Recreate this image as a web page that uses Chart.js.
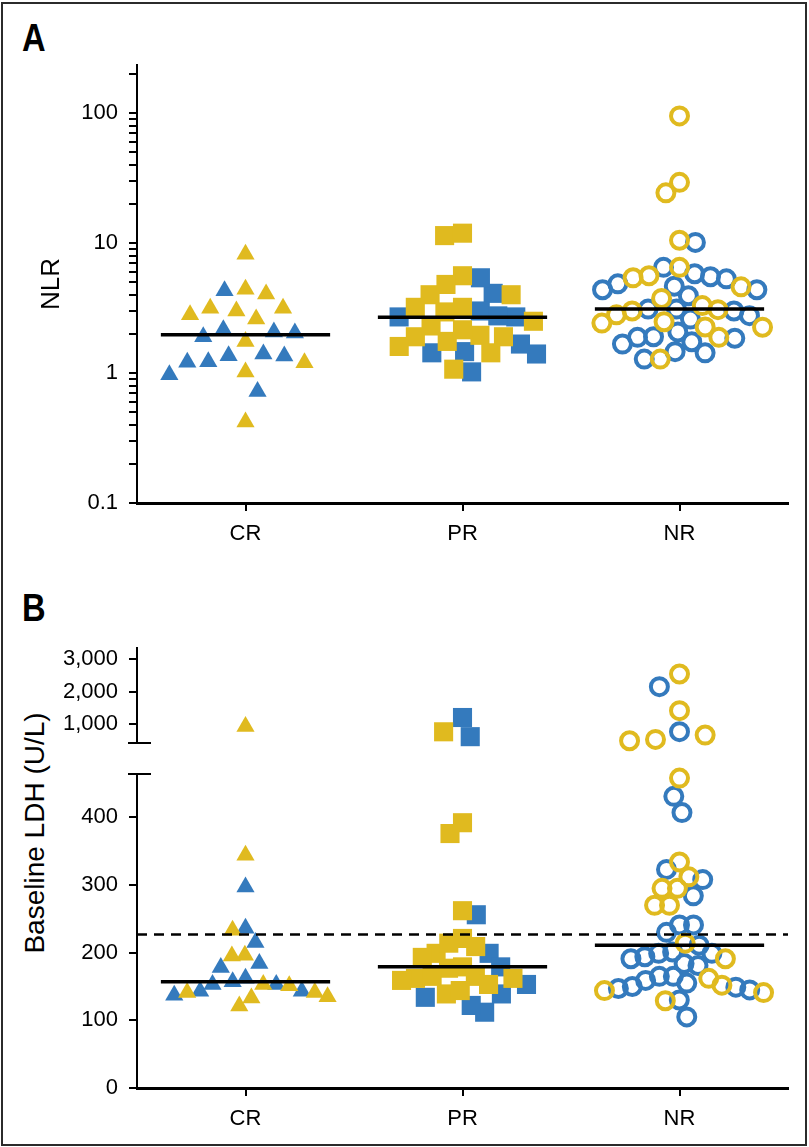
<!DOCTYPE html>
<html>
<head>
<meta charset="utf-8">
<script src="https://cdn.jsdelivr.net/npm/chart.js@4.4.1/dist/chart.umd.min.js"></script>
<style>
  html, body { margin: 0; padding: 0; background: #fff; }
  #page { position: relative; width: 809px; height: 1147px; overflow: hidden; }
  .frame { position: absolute; left: 1px; top: 2px; width: 802px; height: 1140px; border: 2px solid #2b2b2b; }
  .holder { position: absolute; left: 0; }
  .tag { position: absolute; left: 22px; font: bold 38px 'Liberation Sans', Arial, sans-serif; line-height: 1; color: #000;
         transform: scaleX(0.86); transform-origin: left top; }
  .ytitle { position: absolute; font: 28px 'Liberation Sans', Arial, sans-serif; line-height: 1; color: #000;
            white-space: nowrap; transform: translate(-50%, -50%) rotate(-90deg); }
</style>
</head>
<body>
<div id="page">
  <div class="frame"></div>
  <div class="tag" style="top:19px">A</div>
  <div class="tag" style="top:589px">B</div>
  <div class="ytitle" style="left:35px; top:833px">Baseline LDH (U/L)</div>
  <div class="holder" style="top:0"><canvas id="nlrChart" width="809" height="560"></canvas></div>
  <div class="holder" style="top:600px"><canvas id="ldhHighChart" width="809" height="170"></canvas></div>
  <div class="holder" style="top:740px"><canvas id="ldhLowChart" width="809" height="407"></canvas></div>
</div>
<script>
// Response groups
const groups = ['CR', 'PR', 'NR'];

// Panel A: NLR values (yellow and blue patients)
const nlrYellowCR = [8.2, 4.4, 4.05, 3.15, 3.0, 2.6, 2.8, 3.15, 1.75, 1.2, 1.02, 0.42];
const nlrBlueCR = [4.3, 2.07, 2.03, 2.15, 1.9, 1.36, 1.22, 0.97, 1.21, 1.35, 1.4, 0.72];
const nlrYellowPR = [11.4, 11.9, 5.6, 4.0, 4.8, 4.0, 3.2, 2.95, 3.2, 2.5, 1.95, 1.9, 1.75, 1.9, 2.15, 1.6, 1.43, 1.07, 2.3];
const nlrBluePR = [4.1, 5.4, 2.7, 3.0, 2.75, 2.7, 1.43, 1.4, 1.02, 1.46, 1.67];
const nlrYellowNR = [95, 29.3, 24.3, 10.5, 6.5, 5.4, 5.6, 4.6, 3.75, 3.3, 3.07, 3.0, 2.48, 2.25, 2.26, 2.42, 2.8, 1.88, 1.28];
const nlrBlueNR = [10.1, 6.5, 5.8, 5.5, 5.3, 4.85, 4.65, 4.37, 4.37, 3.93, 3.1, 3.1, 2.76, 3.0, 1.85, 1.67, 1.43, 1.28, 1.46, 1.74, 1.88, 2.07, 1.9, 2.6];
const nlrMedians = [1.97, 2.68, 3.1];
const nlrMajorTicks = [0.1, 1, 10, 100];
const nlrMax = 234;

// Panel B: baseline LDH values (U/L)
const ldhYellowCR = [920, 344, 233, 196, 195, 151, 141, 135, 121, 133, 141, 153];
const ldhBlueCR = [297, 236, 215, 184, 178, 153, 143, 157, 162, 137, 143, 153];
const ldhYellowPR = [760, 376, 392, 262, 221, 209, 199, 214, 193, 179, 177, 165, 162, 159, 153, 162, 165, 139, 144];
const ldhBluePR = [610, 1200, 256, 199, 179, 153, 139, 134, 112, 122];
const ldhYellowNR = [2540, 1410, 660, 485, 526, 458, 334, 312, 295, 295, 270, 270, 214, 191, 162, 144, 152, 129, 141];
const ldhBlueNR = [2150, 763, 431, 407, 323, 308, 284, 241, 241, 230, 211, 199, 191, 194, 199, 201, 184, 181, 165, 150, 130, 147, 145, 149, 155, 159, 165, 105];
const ldhMedians = [157, 179, 211];
const ldhUpperNormal = 227;
const ldhLowTicks = [0, 100, 200, 300, 400];
const ldhHighTicks = [1000, 2000, 3000];
const ldhLowMax = 464;
const ldhHighMin = 415;
const ldhHighMax = 3340;

const yellow = '#E0BA1F';
const blue = '#347ABD';

Chart.defaults.font.family = "'Liberation Sans', Arial, sans-serif";
Chart.defaults.color = '#000';
Chart.defaults.animation = false;

// marker look per response group
function markerStyle(cat, color) {
  if (cat === 0) return { pointStyle: 'triangle', pointRadius: 10.5, pointBackgroundColor: color, pointBorderColor: color, pointBorderWidth: 0 };
  if (cat === 1) return { pointStyle: 'rect', pointRadius: 13.5, pointBackgroundColor: color, pointBorderColor: color, pointBorderWidth: 0 };
  return { pointStyle: 'circle', pointRadius: 8.5, pointBackgroundColor: 'rgba(0,0,0,0)', pointBorderColor: color, pointBorderWidth: 4 };
}

function groupSets(yellowLists, blueLists, keep) {
  const sets = [];
  [[yellowLists, yellow, 1], [blueLists, blue, 2]].forEach(([lists, color, order]) => {
    lists.forEach((vals, cat) => {
      sets.push(Object.assign({
        label: groups[cat],
        cat: cat,
        data: vals.filter(keep).map(v => ({ x: cat, y: v })),
        order: order,
        clip: false
      }, markerStyle(cat, color)));
    });
  });
  return sets;
}

function medianSet(medians) {
  const pts = [];
  medians.forEach((m, i) => {
    pts.push({ x: i - 0.39, y: m }, { x: i + 0.39, y: m }, { x: i + 0.5, y: null });
  });
  return { type: 'line', data: pts, borderColor: '#000', borderWidth: 3.5, pointRadius: 0, showLine: true, spanGaps: false, order: 0 };
}

// spread the points sideways like a dot plot (beeswarm with an oval keep-out zone)
function swarm(chart, gaps) {
  const xs = chart.scales.x, ys = chart.scales.y;
  const unit = xs.getPixelForValue(1) - xs.getPixelForValue(0);
  groups.forEach((g, c) => {
    const pts = [];
    chart.data.datasets.forEach(ds => {
      if (ds.cat !== c) return;
      ds.data.forEach(p => pts.push({ p: p, y: ys.getPixelForValue(p.y) }));
    });
    pts.sort((a, b) => a.y - b.y);
    const sx = gaps[c][0], sy = gaps[c][1];
    const placed = [];
    let side = -1;
    pts.forEach(q => {
      const near = placed.filter(o => Math.abs(o.y - q.y) < sy);
      const cands = [0];
      near.forEach(o => {
        const t = (o.y - q.y) / sy;
        const w = sx * Math.sqrt(1 - t * t);
        cands.push(o.x + w, o.x - w);
      });
      let best = null;
      cands.forEach(x => {
        const hit = near.some(o => {
          const dx = (o.x - x) / sx, dy = (o.y - q.y) / sy;
          return dx * dx + dy * dy < 0.995;
        });
        if (hit) return;
        if (best === null || Math.abs(x) < Math.abs(best) - 0.5 ||
            (Math.abs(Math.abs(x) - Math.abs(best)) <= 0.5 && Math.sign(x) === side)) best = x;
      });
      if (Math.abs(best) > 0.5) side = -Math.sign(best);
      q.x = best;
      placed.push(q);
      q.p.x = c + best / unit;
    });
  });
  chart.update('none');
}

// short horizontal mark where the LDH axis is broken
const axisBreak = {
  id: 'axisBreak',
  afterDraw(chart, args, opts) {
    const ys = chart.scales.y;
    const yPix = opts.edge === 'bottom' ? ys.bottom : ys.top;
    const ctx = chart.ctx;
    ctx.save();
    ctx.strokeStyle = '#000';
    ctx.lineWidth = 2;
    ctx.beginPath();
    ctx.moveTo(ys.right - 9, yPix);
    ctx.lineTo(ys.right + 14, yPix);
    ctx.stroke();
    ctx.restore();
  }
};

const tickFont = { size: 22 };

function xAxis(height, show) {
  return {
    type: 'linear', min: -0.5, max: 2.5, display: show,
    afterBuildTicks: s => { s.ticks = groups.map((g, i) => ({ value: i })); },
    afterFit: s => { s.height = height; },
    ticks: { callback: v => groups[v], padding: 10, font: tickFont, color: '#000' },
    grid: { drawOnChartArea: false, tickLength: 8, color: '#000', lineWidth: 2 },
    border: { color: '#000', width: 3 }
  };
}

function yAxisBase(tickValues, labelFn) {
  return {
    afterBuildTicks: s => { s.ticks = tickValues.map(v => ({ value: v })); },
    afterFit: s => { s.width = 137; },
    ticks: { autoSkip: false, padding: 11, font: tickFont, color: '#000', callback: labelFn },
    grid: { drawOnChartArea: false, tickLength: 8, color: '#000', lineWidth: 2 },
    border: { color: '#000', width: 2 }
  };
}

// Panel A
const nlrTickValues = [];
nlrMajorTicks.forEach(m => {
  for (let k = 1; k <= 9; k++) if (m * k <= nlrMax) nlrTickValues.push(m * k);
});
const nlrY = yAxisBase(nlrTickValues, v => {
  const hit = nlrMajorTicks.find(m => Math.abs(m - v) / m < 1e-6);
  return hit === undefined ? '' : String(hit);
});
nlrY.type = 'logarithmic';
nlrY.min = 0.1;
nlrY.max = nlrMax;
nlrY.title = { display: true, text: 'NLR', font: { size: 26 }, color: '#000', padding: { top: 36, bottom: 0 } };

const nlrChart = new Chart(document.getElementById('nlrChart'), {
  type: 'scatter',
  data: {
    datasets: [medianSet(nlrMedians)].concat(groupSets(
      [nlrYellowCR, nlrYellowPR, nlrYellowNR], [nlrBlueCR, nlrBluePR, nlrBlueNR], () => true))
  },
  options: {
    responsive: false,
    layout: { padding: { top: 65, right: 21, bottom: 0, left: 0 }, autoPadding: false },
    plugins: { legend: { display: false }, tooltip: { enabled: false } },
    scales: { x: xAxis(57, true), y: nlrY }
  }
});
swarm(nlrChart, [[21, 24], [18, 22], [16, 20]]);

// Panel B, upper part of the broken axis
const highY = yAxisBase(ldhHighTicks, v => v.toLocaleString('en-US'));
highY.type = 'linear';
highY.min = ldhHighMin;
highY.max = ldhHighMax;

const ldhHighChart = new Chart(document.getElementById('ldhHighChart'), {
  type: 'scatter',
  data: {
    datasets: groupSets([ldhYellowCR, ldhYellowPR, ldhYellowNR], [ldhBlueCR, ldhBluePR, ldhBlueNR], v => v > ldhLowMax)
  },
  options: {
    responsive: false,
    layout: { padding: { top: 48, right: 21, bottom: 27, left: 0 }, autoPadding: false },
    plugins: { legend: { display: false }, tooltip: { enabled: false }, axisBreak: { edge: 'bottom' } },
    scales: { x: xAxis(0, false), y: highY }
  },
  plugins: [axisBreak]
});
swarm(ldhHighChart, [[20, 20], [27, 20], [26, 20]]);

// Panel B, lower part of the broken axis
const lowY = yAxisBase(ldhLowTicks, v => String(v));
lowY.type = 'linear';
lowY.min = 0;
lowY.max = ldhLowMax;

const ldhLowChart = new Chart(document.getElementById('ldhLowChart'), {
  type: 'scatter',
  data: {
    datasets: [
      medianSet(ldhMedians),
      { type: 'line', data: [{ x: -0.5, y: ldhUpperNormal }, { x: 2.5, y: ldhUpperNormal }],
        borderColor: '#000', borderWidth: 2.5, borderDash: [10, 7], pointRadius: 0, showLine: true, order: 0 }
    ].concat(groupSets([ldhYellowCR, ldhYellowPR, ldhYellowNR], [ldhBlueCR, ldhBluePR, ldhBlueNR], v => v <= ldhLowMax))
  },
  options: {
    responsive: false,
    layout: { padding: { top: 34, right: 21, bottom: 0, left: 0 }, autoPadding: false },
    plugins: { legend: { display: false }, tooltip: { enabled: false }, axisBreak: { edge: 'top' } },
    scales: { x: xAxis(59, true), y: lowY }
  },
  plugins: [axisBreak]
});
swarm(ldhLowChart, [[13, 22], [14, 24], [14, 20]]);
</script>
</body>
</html>
